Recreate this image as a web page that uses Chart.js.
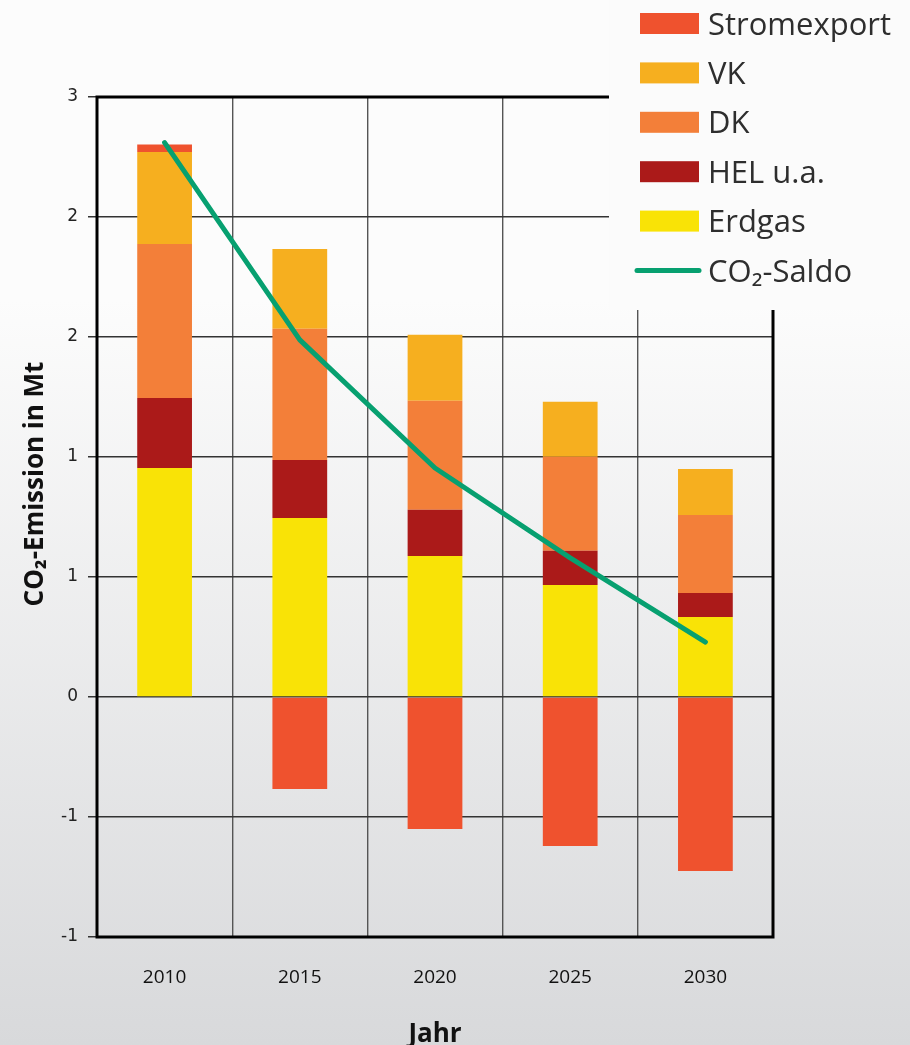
<!DOCTYPE html>
<html>
<head>
<meta charset="utf-8">
<script src="https://cdn.jsdelivr.net/npm/chart.js@4.4.1/dist/chart.umd.min.js"></script>
<style>
  html, body { margin: 0; padding: 0; }
  body {
    width: 910px; height: 1045px; overflow: hidden;
    background: linear-gradient(to bottom, #fcfcfc 0px, #fcfcfc 300px, #d8d9db 1045px);
  }
  #wrap { position: relative; width: 910px; height: 1045px; }
</style>
</head>
<body>
<div id="wrap"><canvas id="chart" width="910" height="1045"></canvas></div>
<script>
// Jahre (Kategorien)
const years = ['2010', '2015', '2020', '2025', '2030'];

// CO2-Emissionen je Energieträger in Mt
const erdgas      = [0.954, 0.746, 0.588, 0.467, 0.333];
const helUa       = [0.292, 0.242, 0.192, 0.142, 0.100];
const dk          = [0.642, 0.546, 0.454, 0.392, 0.325];
const vk          = [0.383, 0.333, 0.275, 0.229, 0.192];
const stromexport = [0.031, -0.383, -0.550, -0.621, -0.725];

// CO2-Saldo in Mt
const co2Saldo    = [2.31, 1.488, 0.954, 0.58, 0.229];

// Beschriftung der y-Achse (von unten nach oben, Schritt 0,5 ganzzahlig gerundet)
const yTickLabels = ['-1', '-1', '0', '1', '1', '2', '2', '3'];

// Reihenfolge der Legende
const legendOrder = ['Stromexport', 'VK', 'DK', 'HEL u.a.', 'Erdgas', 'CO₂-Saldo'];

const COLORS = {
  'Erdgas': '#f9e306',
  'HEL u.a.': '#ab1a19',
  'DK': '#f37f39',
  'VK': '#f6af1f',
  'Stromexport': '#ef522e',
  'CO₂-Saldo': '#07a070'
};

const FONT = '"Open Sans", "Noto Sans", sans-serif';

// Rahmen um die Zeichenfläche
const framePlugin = {
  id: 'frame',
  beforeDatasetsDraw(chart) {
    const { ctx, chartArea: a } = chart;
    ctx.save();
    ctx.strokeStyle = '#000';
    ctx.lineWidth = 3;
    ctx.strokeRect(a.left, a.top, a.right - a.left, a.bottom - a.top);
    ctx.restore();
  }
};

// Achsentitel und Legende
const overlayPlugin = {
  id: 'overlay',
  afterDraw(chart) {
    const { ctx } = chart;
    ctx.save();
    // Achsentitel
    ctx.fillStyle = '#111';
    ctx.font = 'bold 26px ' + FONT;
    ctx.textAlign = 'center';
    ctx.textBaseline = 'alphabetic';
    ctx.fillText('Jahr', 435, 1042);
    ctx.save();
    ctx.translate(43, 484);
    ctx.rotate(-Math.PI / 2);
    ctx.fillText('CO₂-Emission in Mt', 0, 0);
    ctx.restore();

    // Legende
    ctx.fillStyle = '#fbfbfb';
    ctx.fillRect(609, 0, 301, 310);
    ctx.font = '31px ' + FONT;
    ctx.textAlign = 'left';
    legendOrder.forEach((label, i) => {
      const ds = chart.data.datasets.find(d => d.label === label);
      const cy = 23.5 + i * 49.4;
      if (ds.type === 'line') {
        ctx.strokeStyle = ds.borderColor;
        ctx.lineWidth = 5;
        ctx.lineCap = 'round';
        ctx.beginPath();
        ctx.moveTo(637, cy);
        ctx.lineTo(699, cy);
        ctx.stroke();
      } else {
        ctx.fillStyle = ds.backgroundColor;
        ctx.fillRect(640, cy - 10.5, 59, 21);
      }
      ctx.fillStyle = '#2e2e2e';
      ctx.fillText(label, 708, cy + 11);
    });
    ctx.restore();
  }
};

const barDs = (label, data) => ({
  type: 'bar',
  label,
  data,
  backgroundColor: COLORS[label],
  borderWidth: 0,
  stack: 'energie',
  order: 1,
  categoryPercentage: 0.405,
  barPercentage: 1
});

new Chart(document.getElementById('chart'), {
  data: {
    labels: years,
    datasets: [
      barDs('Erdgas', erdgas),
      barDs('HEL u.a.', helUa),
      barDs('DK', dk),
      barDs('VK', vk),
      barDs('Stromexport', stromexport),
      {
        type: 'line',
        label: 'CO₂-Saldo',
        data: co2Saldo,
        borderColor: COLORS['CO₂-Saldo'],
        backgroundColor: COLORS['CO₂-Saldo'],
        borderWidth: 5,
        borderCapStyle: 'round',
        borderJoinStyle: 'round',
        pointRadius: 0,
        tension: 0,
        stack: 'saldo',
        order: 0
      }
    ]
  },
  options: {
    responsive: false,
    animation: false,
    devicePixelRatio: 1,
    layout: { padding: { top: 97, right: 137, left: 0, bottom: 0 } },
    plugins: {
      legend: { display: false },
      tooltip: { enabled: false },
      title: { display: false }
    },
    scales: {
      x: {
        stacked: true,
        offset: true,
        grid: { offset: true, color: '#555', lineWidth: 1.4, drawTicks: false },
        border: { display: false },
        ticks: { color: '#111', font: { family: FONT, size: 19 }, padding: 29, maxRotation: 0 },
        afterFit(scale) { scale.height = 108; }
      },
      y: {
        stacked: true,
        min: -1,
        max: 2.5,
        grid: { color: '#333', lineWidth: 1.5, tickLength: 9, drawTicks: true },
        border: { display: false },
        ticks: {
          stepSize: 0.5,
          color: '#222',
          padding: 10,
          font: { family: '"DejaVu Sans", sans-serif', size: 17 },
          callback: (value, index) => yTickLabels[index]
        },
        afterFit(scale) { scale.width = 97; }
      }
    }
  },
  plugins: [framePlugin, overlayPlugin]
});
</script>
</body>
</html>
